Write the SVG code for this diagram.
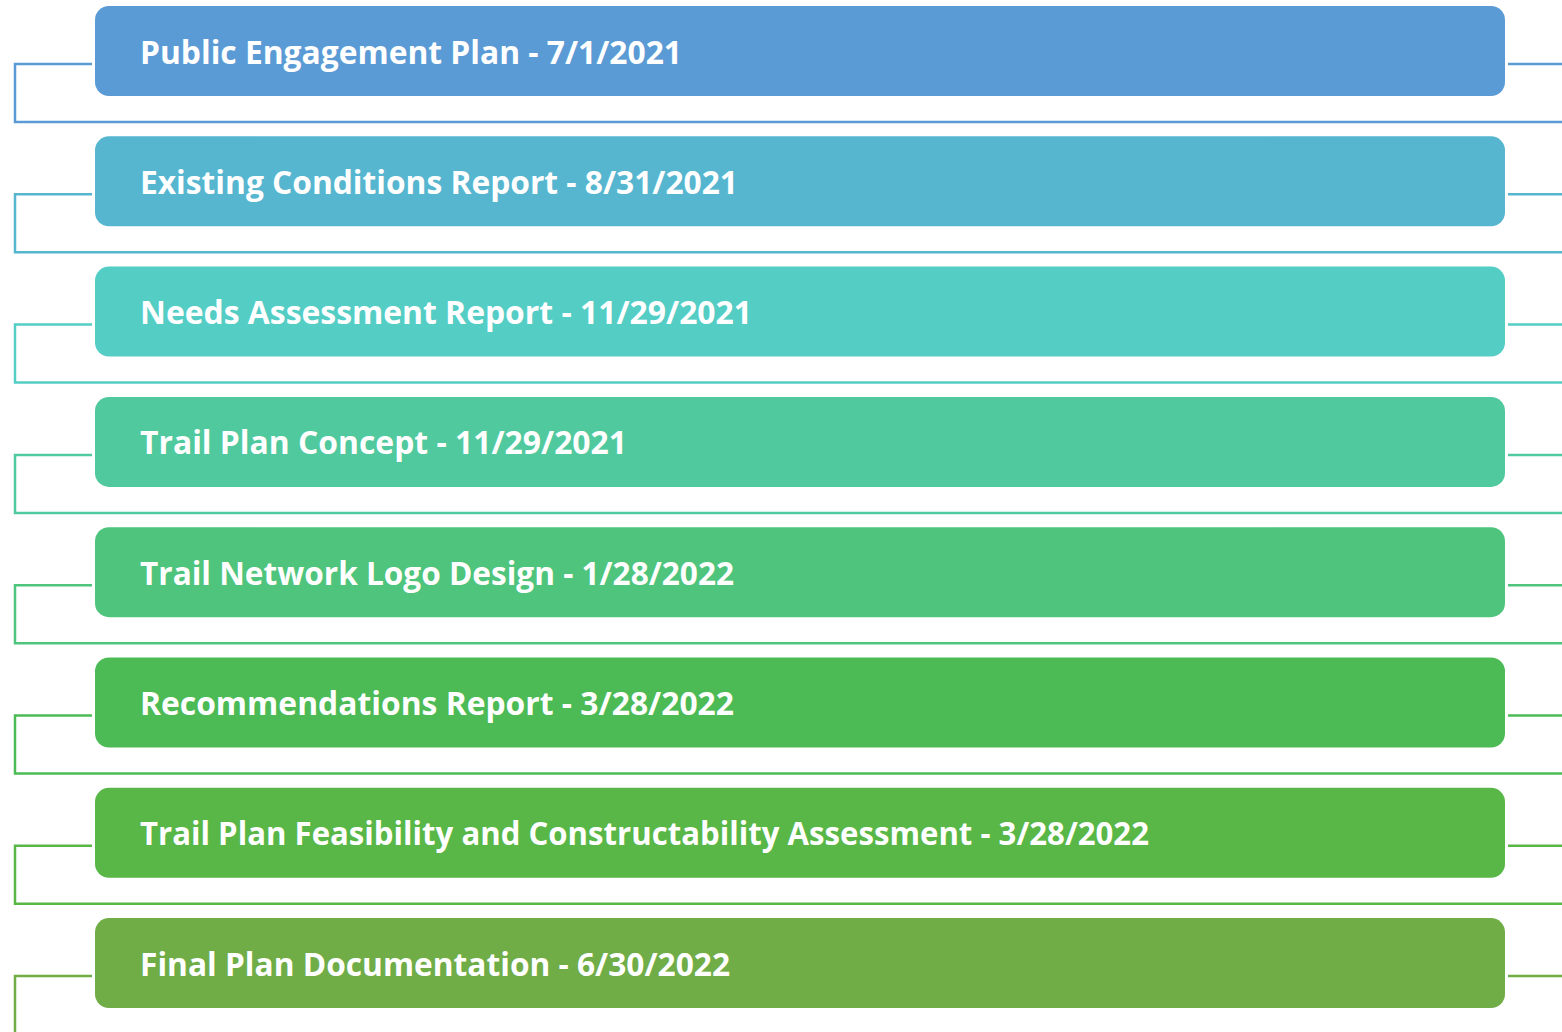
<svg xmlns="http://www.w3.org/2000/svg" width="1562" height="1032" viewBox="0 0 1562 1032">
<style>
.box{stroke:none}
.lbl{font-family:"Open Sans","Liberation Sans",sans-serif;font-weight:bold;font-size:33px;fill:#ffffff}
.c{fill:none;stroke-width:2.5}
</style>
<rect width="1562" height="1032" fill="#ffffff"/>
<g id="connectors">
<path class="c" stroke="#5B9BD5" d="M92,64 H15 V122 H1562 M1508,64 H1562"/>
<path class="c" stroke="#56B6D0" d="M92,194.3 H15 V252.3 H1562 M1508,194.3 H1562"/>
<path class="c" stroke="#54CDC5" d="M92,324.6 H15 V382.6 H1562 M1508,324.6 H1562"/>
<path class="c" stroke="#51C99E" d="M92,454.9 H15 V512.9 H1562 M1508,454.9 H1562"/>
<path class="c" stroke="#4EC47C" d="M92,585.2 H15 V643.2 H1562 M1508,585.2 H1562"/>
<path class="c" stroke="#4CBB55" d="M92,715.5 H15 V773.5 H1562 M1508,715.5 H1562"/>
<path class="c" stroke="#58B746" d="M92,845.8 H15 V903.8 H1562 M1508,845.8 H1562"/>
<path class="c" stroke="#70AD47" d="M92,976.1 H15 V1032 M1508,976.1 H1562"/>
</g>
<g id="n1"><rect class="box" x="95" y="6" width="1410" height="90" rx="14" fill="#5B9BD5"/><text class="lbl" x="140" y="63.5" textLength="542" lengthAdjust="spacingAndGlyphs">Public Engagement Plan - 7/1/2021</text></g>
<g id="n2"><rect class="box" x="95" y="136.3" width="1410" height="90" rx="14" fill="#56B6D0"/><text class="lbl" x="140" y="193.8" textLength="598" lengthAdjust="spacingAndGlyphs">Existing Conditions Report - 8/31/2021</text></g>
<g id="n3"><rect class="box" x="95" y="266.6" width="1410" height="90" rx="14" fill="#54CDC5"/><text class="lbl" x="140" y="324.1" textLength="612" lengthAdjust="spacingAndGlyphs">Needs Assessment Report - 11/29/2021</text></g>
<g id="n4"><rect class="box" x="95" y="396.9" width="1410" height="90" rx="14" fill="#51C99E"/><text class="lbl" x="140" y="454.4" textLength="487" lengthAdjust="spacingAndGlyphs">Trail Plan Concept - 11/29/2021</text></g>
<g id="n5"><rect class="box" x="95" y="527.2" width="1410" height="90" rx="14" fill="#4EC47C"/><text class="lbl" x="140" y="584.7" textLength="594" lengthAdjust="spacingAndGlyphs">Trail Network Logo Design - 1/28/2022</text></g>
<g id="n6"><rect class="box" x="95" y="657.5" width="1410" height="90" rx="14" fill="#4CBB55"/><text class="lbl" x="140" y="715" textLength="594" lengthAdjust="spacingAndGlyphs">Recommendations Report - 3/28/2022</text></g>
<g id="n7"><rect class="box" x="95" y="787.8" width="1410" height="90" rx="14" fill="#58B746"/><text class="lbl" x="140" y="845.3" textLength="1009" lengthAdjust="spacingAndGlyphs">Trail Plan Feasibility and Constructability Assessment - 3/28/2022</text></g>
<g id="n8"><rect class="box" x="95" y="918.1" width="1410" height="90" rx="14" fill="#70AD47"/><text class="lbl" x="140" y="975.6" textLength="590" lengthAdjust="spacingAndGlyphs">Final Plan Documentation - 6/30/2022</text></g>
</svg>
